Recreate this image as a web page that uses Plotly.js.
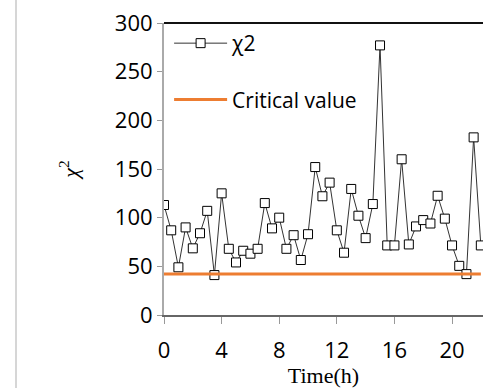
<!DOCTYPE html>
<html>
<head>
<meta charset="utf-8">
<script src="https://cdn.plot.ly/plotly-3.0.1.min.js"></script>
<style>html,body{margin:0;padding:0;background:#fff;}#wrap{position:relative;width:483px;height:388px;}#chart{width:483px;height:388px;}#edge{position:absolute;left:15px;top:0;width:0;height:388px;border-left:2px solid #d6d6d6;pointer-events:none;}</style>
</head>
<body>
<div id="wrap"><div id="chart"></div><div id="edge"></div></div>
<script>
const timeHours = [0,0.5,1,1.5,2,2.5,3,3.5,4,4.5,5,5.5,6,6.5,7,7.5,8,8.5,9,9.5,10,10.5,11,11.5,12,12.5,13,13.5,14,14.5,15,15.5,16,16.5,17,17.5,18,18.5,19,19.5,20,20.5,21,21.5,22];
const chiSquare = [113,87,49,90,68.5,84,107,41,125,68,54,66,63,68,115,89,100,68,82,56.5,83,152,122,136,87,64,129.5,102,79,114,277,71.5,71.5,160,72.5,91,97.5,94,122.5,99,71.5,50.5,42,182.5,71.5];
const criticalValue = 42;
const xTicks = [0,4,8,12,16,20];
const yTicks = [0,50,100,150,200,250,300];

const traces = [
  {
    x: timeHours, y: chiSquare, name: 'χ2', type: 'scatter', mode: 'lines+markers',
    line: {color: '#333333', width: 1},
    marker: {symbol: 'square', size: 9, color: '#ffffff', line: {color: '#000000', width: 1}},
    legendgroup: 'a'
  },
  {
    x: timeHours, y: timeHours.map(() => criticalValue), name: 'Critical value', type: 'scatter', mode: 'lines',
    line: {color: '#ED7D31', width: 3},
    legendgroup: 'b'
  }
];

const layout = {
  width: 483, height: 388,
  margin: {l: 164, r: 0, t: 23, b: 73},
  paper_bgcolor: 'rgba(0,0,0,0)', plot_bgcolor: '#ffffff',
  font: {family: '"Open Sans", sans-serif', color: '#000000', size: 22},
  showlegend: true,
  legend: {
    x: 0.016, y: 1, xanchor: 'left', yanchor: 'top',
    bgcolor: 'rgba(0,0,0,0)', borderwidth: 0,
    font: {family: '"Open Sans", sans-serif', size: 21, color: '#000'},
    traceorder: 'grouped', tracegroupgap: 26, itemwidth: 53
  },
  xaxis: {
    range: [0, 22.15], tickvals: xTicks, ticktext: xTicks.map(String),
    showgrid: false, zeroline: false,
    showline: true, linecolor: '#666666', linewidth: 2,
    ticks: 'outside', ticklen: 7, tickcolor: '#999999', tickwidth: 1,
    ticklabelstandoff: 8,
    tickfont: {family: '"Open Sans", sans-serif', size: 22},
    title: {text: 'Time(h)', font: {family: '"Liberation Serif", "Times New Roman", serif', size: 22}, standoff: 0}
  },
  yaxis: {
    range: [0, 300], tickvals: yTicks, ticktext: yTicks.map(String),
    showgrid: false, zeroline: false,
    showline: true, linecolor: '#aaaaaa', linewidth: 2,
    ticks: 'outside', ticklen: 5, tickcolor: '#999999', tickwidth: 1,
    tickfont: {family: '"Open Sans", sans-serif', size: 22},
    title: {text: '<i>χ</i><sup>2</sup>', font: {family: '"Liberation Serif", "Times New Roman", serif', size: 22}, standoff: 30}
  },
  shapes: [
    {type: 'line', xref: 'paper', yref: 'paper', x0: 0, x1: 1, y0: 1, y1: 1, line: {color: '#111111', width: 2}}
  ]
};

Plotly.newPlot('chart', traces, layout, {displayModeBar: false, staticPlot: true});
</script>
</body>
</html>
